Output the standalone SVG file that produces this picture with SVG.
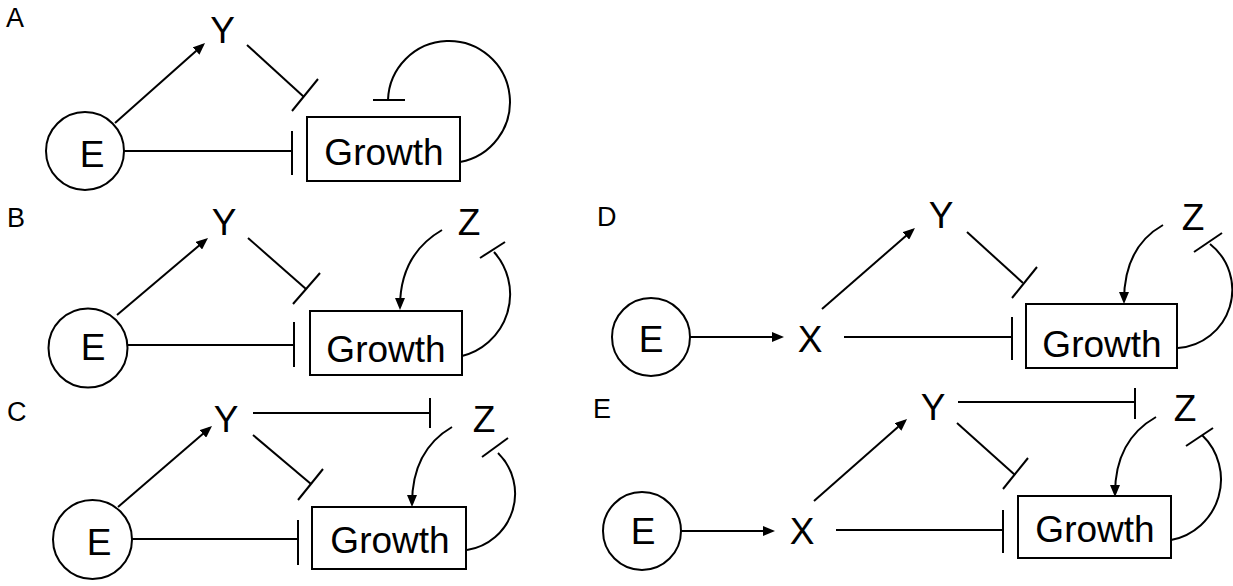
<svg xmlns="http://www.w3.org/2000/svg" width="1233" height="586" viewBox="0 0 1233 586">
  <style>
    .label { font-family: "Liberation Sans", Arial, sans-serif; font-size: 27px; fill: #000; }
    .node { font-family: "Liberation Sans", Arial, sans-serif; font-size: 37px; fill: #000; text-anchor: middle; }
    .shape { fill: #fff; stroke: #000; stroke-width: 2; }
    .edge { fill: none; stroke: #000; stroke-width: 2; }
    .act { marker-end: url(#arrow); }
    .bar { stroke: #000; stroke-width: 2; }
  </style>
  <defs>
    <marker id="arrow" markerUnits="userSpaceOnUse" markerWidth="12" markerHeight="10" refX="9" refY="5" orient="auto">
      <path d="M0,0 L12,5 L0,10 z" fill="#000"/>
    </marker>
  </defs>
  <rect width="1233" height="586" fill="#fff"/>

  <!-- panel labels -->
  <g id="panel-labels">
    <text class="label" x="6" y="27">A</text>
    <text class="label" x="7" y="227">B</text>
    <text class="label" x="7" y="421">C</text>
    <text class="label" x="597" y="226">D</text>
    <text class="label" x="593" y="418">E</text>
  </g>

  <!-- ===== Panel A ===== -->
  <g id="a-E"><circle class="shape" cx="85" cy="151" r="39"/><text class="node" x="92" y="167">E</text></g>
  <g id="a-Y"><text class="node" x="222.5" y="43">Y</text></g>
  <g id="a-Growth"><rect class="shape" x="307" y="117" width="153" height="64"/><text class="node" x="384" y="165">Growth</text></g>
  <g id="a-connectors">
    <line class="edge act" x1="115" y1="123" x2="202.8" y2="45"/>
    <line class="edge" x1="247" y1="45" x2="304" y2="97"/>
    <line class="bar" x1="292" y1="111" x2="318" y2="79"/>
    <line class="edge" x1="124" y1="151" x2="292" y2="151"/>
    <line class="bar" x1="292" y1="131" x2="292" y2="175"/>
    <path class="edge" d="M460,162 A61,61 0 1 0 388,100"/>
    <line class="bar" x1="373" y1="100" x2="405" y2="100"/>
  </g>

  <!-- ===== Panel B ===== -->
  <g id="b-E"><circle class="shape" cx="88" cy="348" r="39.5"/><text class="node" x="93" y="360">E</text></g>
  <g id="b-Y"><text class="node" x="224" y="235">Y</text></g>
  <g id="b-Z"><text class="node" x="469" y="235">Z</text></g>
  <g id="b-Growth"><rect class="shape" x="310" y="311" width="152" height="64"/><text class="node" x="386" y="362">Growth</text></g>
  <g id="b-connectors">
    <line class="edge act" x1="117" y1="315" x2="205.7" y2="239.9"/>
    <line class="edge" x1="248" y1="238" x2="306" y2="289"/>
    <line class="bar" x1="293" y1="304" x2="320" y2="273"/>
    <line class="edge" x1="128" y1="345" x2="294" y2="345"/>
    <line class="bar" x1="294" y1="322" x2="294" y2="367"/>
    <path class="edge act" d="M442,230 C418,244 400,268 400,307"/>
    <path class="edge" d="M462,356 A63.6,63.6 0 0 0 494,252"/>
    <line class="bar" x1="480" y1="258" x2="505" y2="242"/>
  </g>

  <!-- ===== Panel C ===== -->
  <g id="c-E"><circle class="shape" cx="92.5" cy="539.5" r="39.5"/><text class="node" x="99" y="555">E</text></g>
  <g id="c-Y"><text class="node" x="226" y="432">Y</text></g>
  <g id="c-Z"><text class="node" x="484" y="432">Z</text></g>
  <g id="c-Growth"><rect class="shape" x="312" y="507" width="154" height="62"/><text class="node" x="390" y="553">Growth</text></g>
  <g id="c-connectors">
    <line class="edge act" x1="118" y1="507" x2="209.7" y2="428"/>
    <line class="edge" x1="253" y1="413" x2="430" y2="413"/>
    <line class="bar" x1="430" y1="398" x2="430" y2="428"/>
    <line class="edge" x1="253" y1="435" x2="311" y2="484"/>
    <line class="bar" x1="298" y1="500" x2="323" y2="469"/>
    <line class="edge" x1="132" y1="539" x2="298" y2="539"/>
    <line class="bar" x1="298" y1="520" x2="298" y2="565"/>
    <path class="edge act" d="M452,427 C428,441 412,465 412,504"/>
    <path class="edge" d="M467,550 A57,57 0 0 0 498,453"/>
    <line class="bar" x1="482" y1="457" x2="508" y2="438"/>
  </g>

  <!-- ===== Panel D ===== -->
  <g id="d-E"><circle class="shape" cx="651" cy="337" r="39"/><text class="node" x="651" y="352">E</text></g>
  <g id="d-X"><text class="node" x="810" y="352">X</text></g>
  <g id="d-Y"><text class="node" x="941" y="228">Y</text></g>
  <g id="d-Z"><text class="node" x="1193" y="230">Z</text></g>
  <g id="d-Growth"><rect class="shape" x="1026" y="304" width="151" height="64"/><text class="node" x="1102" y="357">Growth</text></g>
  <g id="d-connectors">
    <line class="edge act" x1="690" y1="337" x2="781" y2="337"/>
    <line class="edge act" x1="822" y1="309" x2="912.7" y2="230"/>
    <line class="edge" x1="967" y1="232" x2="1023" y2="283"/>
    <line class="bar" x1="1012" y1="298" x2="1037" y2="267"/>
    <line class="edge" x1="844" y1="337" x2="1012" y2="337"/>
    <line class="bar" x1="1012" y1="317" x2="1012" y2="360"/>
    <path class="edge act" d="M1163,225 C1140,238 1124,262 1124,301"/>
    <path class="edge" d="M1178,348 A58.3,58.3 0 0 0 1210,244"/>
    <line class="bar" x1="1194" y1="252" x2="1222" y2="233"/>
  </g>

  <!-- ===== Panel E ===== -->
  <g id="e-E"><circle class="shape" cx="642" cy="531" r="39"/><text class="node" x="643" y="544">E</text></g>
  <g id="e-X"><text class="node" x="802" y="544">X</text></g>
  <g id="e-Y"><text class="node" x="933" y="420">Y</text></g>
  <g id="e-Z"><text class="node" x="1185" y="421">Z</text></g>
  <g id="e-Growth"><rect class="shape" x="1018" y="496" width="153" height="62"/><text class="node" x="1095" y="542">Growth</text></g>
  <g id="e-connectors">
    <line class="edge act" x1="681" y1="531" x2="772" y2="531"/>
    <line class="edge act" x1="814" y1="501" x2="904.8" y2="421"/>
    <line class="edge" x1="958" y1="402" x2="1135" y2="402"/>
    <line class="bar" x1="1135" y1="388" x2="1135" y2="419"/>
    <line class="edge" x1="957" y1="423" x2="1015" y2="475"/>
    <line class="bar" x1="1003" y1="489" x2="1028" y2="458"/>
    <line class="edge" x1="836" y1="530" x2="1003" y2="530"/>
    <line class="bar" x1="1003" y1="510" x2="1003" y2="553"/>
    <path class="edge act" d="M1156,417 C1133,430 1115,454 1115,494"/>
    <path class="edge" d="M1171,540 A61.6,61.6 0 0 0 1202,435"/>
    <line class="bar" x1="1186" y1="446" x2="1213" y2="428"/>
  </g>
</svg>
